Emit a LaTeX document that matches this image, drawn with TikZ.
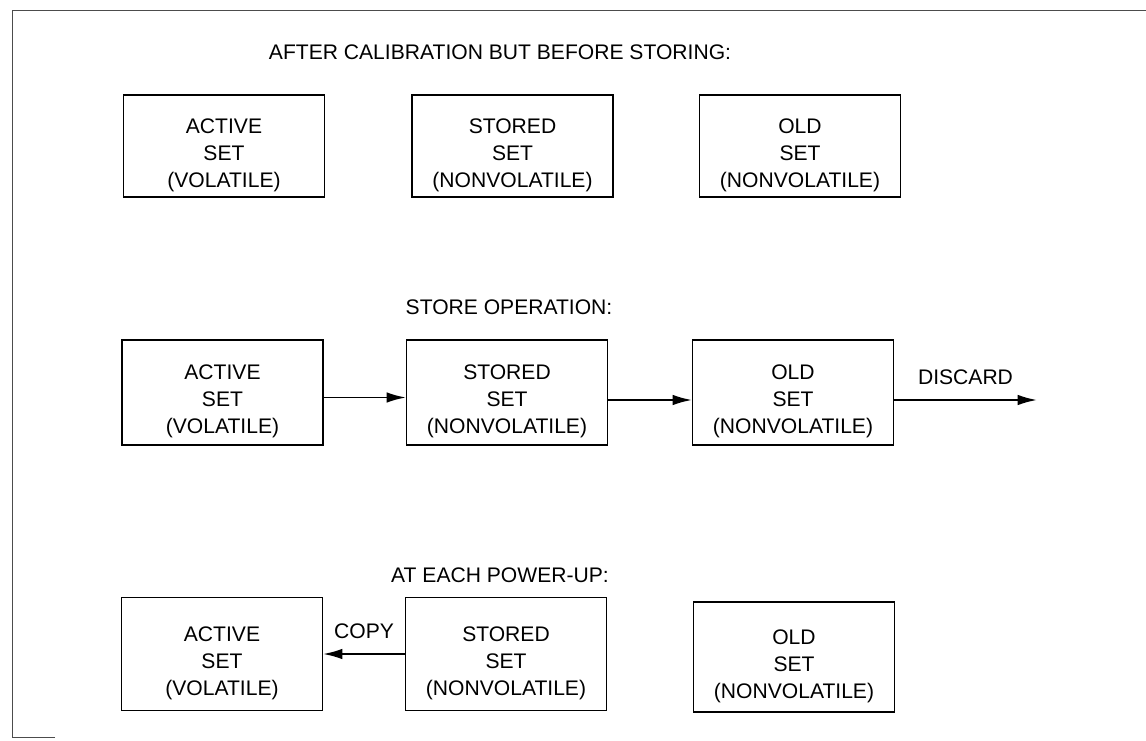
\documentclass[tikz,border=0pt]{standalone}
\usepackage{fontspec}
\setmainfont{Liberation Sans}
\usetikzlibrary{arrows.meta}

% three lines of a register box, set a little below the middle
\newcommand{\settext}[2]{\rule{0pt}{18.5pt}#1\\SET\\#2}

\tikzset{
  setbox/.style={draw, line width=0.6pt, align=center, minimum width=4.02cm,
    minimum height=2.1cm, inner sep=0pt, font=\fontsize{12}{15.4}\selectfont},
  flow/.style={line width=1.1pt, -{Latex[length=11pt,width=6pt]}},
  heading/.style={font=\fontsize{12}{14}\selectfont}
}

\begin{document}
\begin{tikzpicture}
    \useasboundingbox (0,0) rectangle (22.92,14.8);
    % frame of the page
    \draw[line width=0.5pt, black!70] (1.1,0.06) -- (0.24,0.06) -- (0.24,14.6) -- (22.92,14.6);

    % after calibration
    \node[heading] (head1) at (10.0,13.76) {AFTER CALIBRATION BUT BEFORE STORING:};
    \node[setbox, minimum height=2.04cm] (act1) at (4.48,11.88) {\settext{ACTIVE}{(VOLATILE)}};
    \node[setbox, minimum height=2.04cm] (sto1) at (10.25,11.88) {\settext{STORED}{(NONVOLATILE)}};
    \node[setbox, minimum height=2.04cm] (old1) at (16.0,11.88) {\settext{OLD}{(NONVOLATILE)}};

    % store operation
    \node[heading] (head2) at (10.18,8.66) {STORE OPERATION:};
    \node[setbox] (act2) at (4.45,6.95) {\settext{ACTIVE}{(VOLATILE)}};
    \node[setbox] (sto2) at (10.14,6.95) {\settext{STORED}{(NONVOLATILE)}};
    \node[setbox] (old2) at (15.86,6.95) {\settext{OLD}{(NONVOLATILE)}};
    \coordinate (bin) at (20.74,6.80);
    \draw[flow] ([yshift=-0.1cm]act2.east) -- ([yshift=-0.1cm]sto2.west);
    \draw[flow] ([yshift=-0.15cm]sto2.east) -- ([yshift=-0.15cm]old2.west);
    \draw[flow] ([yshift=-0.15cm]old2.east) -- (bin) node[midway, above=5pt, heading] (discard) {DISCARD};

    % power-up
    \node[heading] (head3) at (10.0,3.3) {AT EACH POWER-UP:};
    \node[setbox, minimum height=2.26cm] (act3) at (4.44,1.72) {\settext{ACTIVE}{(VOLATILE)}};
    \node[setbox, minimum height=2.26cm] (sto3) at (10.12,1.72) {\settext{STORED}{(NONVOLATILE)}};
    \node[setbox, minimum height=2.2cm] (old3) at (15.88,1.66) {\settext{OLD}{(NONVOLATILE)}};
    \draw[flow] (sto3) -- (act3) node[midway, above=5pt, heading] (copy) {COPY};
\end{tikzpicture}
\end{document}
